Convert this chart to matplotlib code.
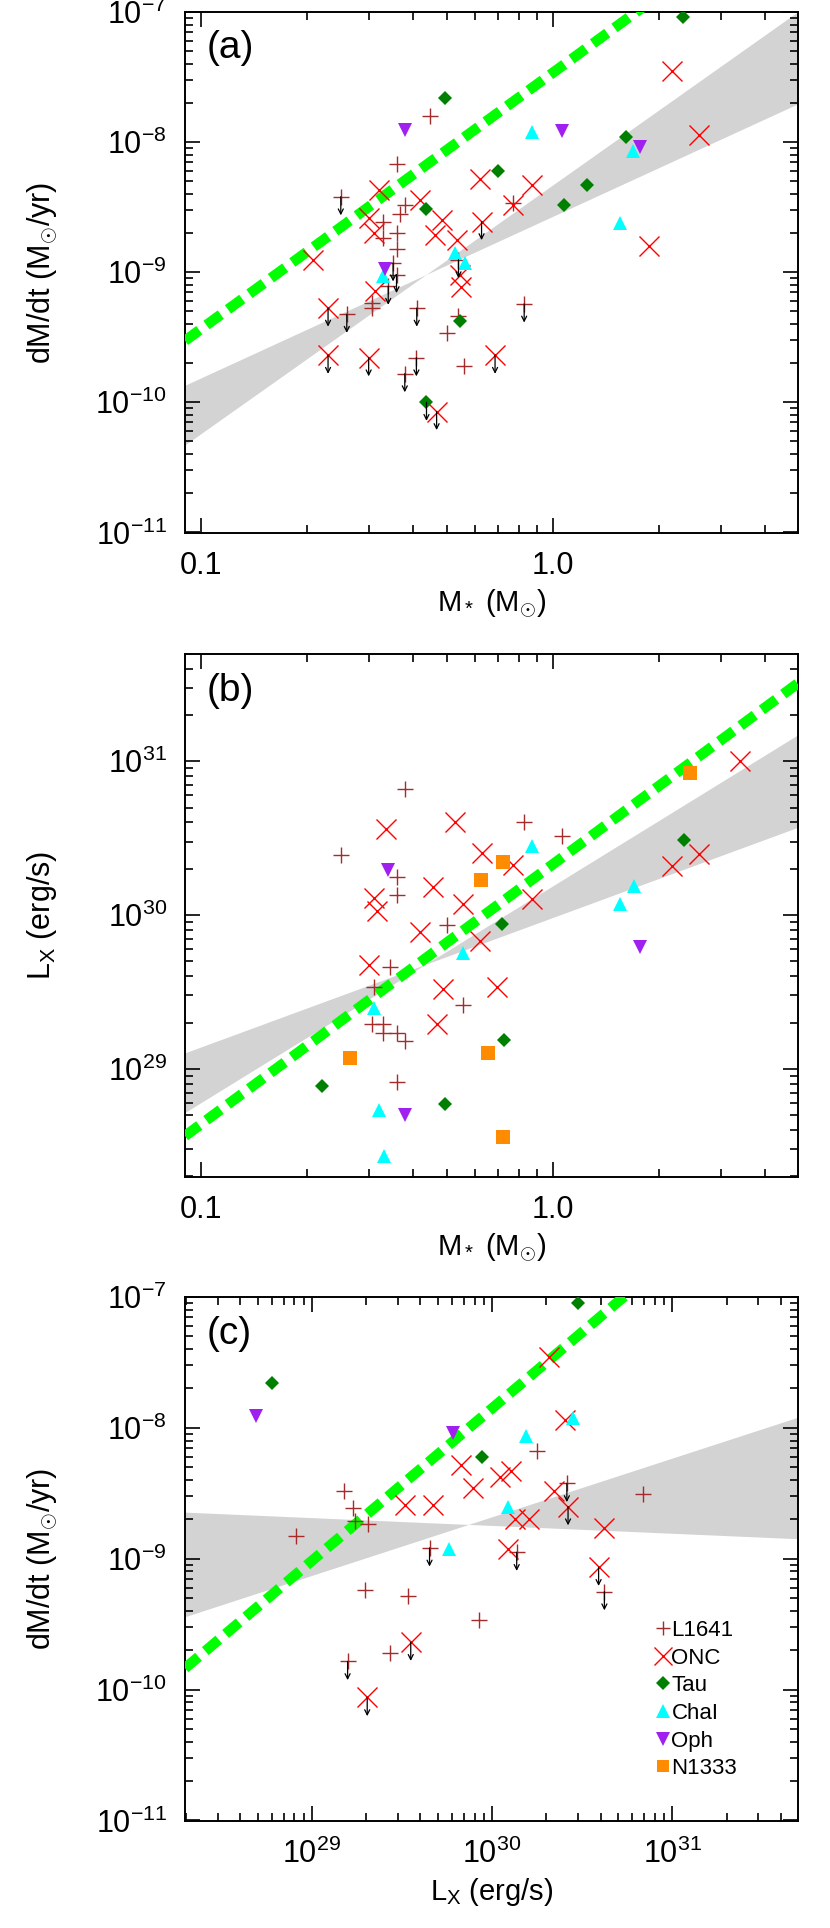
import numpy as np
import matplotlib
matplotlib.use('Agg')
import matplotlib.pyplot as plt
from matplotlib.ticker import (LogLocator, FixedLocator, FixedFormatter, NullFormatter,
                               LogFormatterSciNotation)

plt.rcParams['font.family'] = ['Liberation Sans', 'DejaVu Sans']
plt.rcParams['mathtext.fontset'] = 'custom'
plt.rcParams['mathtext.rm'] = 'Liberation Sans'
plt.rcParams['mathtext.it'] = 'Liberation Sans:italic'
plt.rcParams['mathtext.bf'] = 'Liberation Sans:bold'

# ---------------- panel (a): M* vs dM/dt ----------------
l1641_a_m = [0.448, 0.36, 0.25, 0.38, 0.368, 0.33, 0.33, 0.36, 0.36, 0.352, 0.36, 0.341, 0.306,
             0.306, 0.26, 0.411, 0.54, 0.54, 0.50, 0.41, 0.38, 0.56, 0.773, 0.83]
l1641_a_mdot = [1.6e-8, 6.8e-9, 3.8e-9, 3.3e-9, 2.8e-9, 2.45e-9, 1.83e-9, 2.0e-9, 1.5e-9, 1.18e-9,
                9.6e-10, 7.8e-10, 5.8e-10, 5.3e-10, 4.75e-10, 5.3e-10, 4.6e-10, 1.25e-9, 3.4e-10,
                2.2e-10, 1.66e-10, 1.9e-10, 3.4e-9, 5.7e-10]
l1641_a_ul = [0, 0, 1, 0, 0, 0, 0, 0, 0, 1, 1, 1, 0, 0, 1, 1, 0, 1, 0, 1, 1, 0, 0, 1]

onc_a_m = [0.209, 0.32, 0.30, 0.31, 0.42, 0.484, 0.463, 0.62, 0.534, 0.546, 0.55, 0.313, 0.23,
           0.628, 0.871, 0.773, 2.18, 2.6, 1.88, 0.23, 0.30, 0.468, 0.686]
onc_a_mdot = [1.25e-9, 4.3e-9, 2.6e-9, 2.0e-9, 3.6e-9, 2.5e-9, 1.94e-9, 5.2e-9, 1.78e-9, 9.5e-10,
              7.7e-10, 7.2e-10, 5.3e-10, 2.45e-9, 4.7e-9, 3.3e-9, 3.5e-8, 1.14e-8, 1.6e-9,
              2.3e-10, 2.2e-10, 8.5e-11, 2.3e-10]
onc_a_ul = [0, 0, 0, 0, 0, 0, 0, 0, 0, 0, 0, 0, 1, 1, 0, 0, 0, 0, 0, 1, 1, 1, 1]

tau_a_m = [0.494, 0.438, 0.70, 0.546, 2.35, 1.62, 1.25, 1.08, 0.438]
tau_a_mdot = [2.2e-8, 3.05e-9, 6.0e-9, 4.2e-10, 9.1e-8, 1.1e-8, 4.7e-9, 3.3e-9, 1.0e-10]
tau_a_ul = [0, 0, 0, 0, 0, 0, 0, 0, 1]

cha_a_m = [0.33, 0.527, 0.563, 0.871, 1.69, 1.55]
cha_a_mdot = [9.3e-10, 1.4e-9, 1.18e-9, 1.19e-8, 8.6e-9, 2.4e-9]

oph_a_m = [0.38, 0.334, 1.06, 1.77]
oph_a_mdot = [1.23e-8, 1.05e-9, 1.21e-8, 9.2e-9]

# fit (dashed) and confidence band (log-space pivot + two slopes)
fit_a = (-7.468, 1.97)            # log intercept at M=1, slope
band_a = (-0.360, -9.018, 1.242, 1.912)  # pivot logx, pivot logy, slope1, slope2

# ---------------- panel (b): M* vs Lx ----------------
l1641_b_m = [0.38, 0.25, 0.36, 0.36, 0.50, 0.345, 0.83, 1.06, 0.31, 0.306, 0.33, 0.33, 0.36, 0.38,
             0.557, 0.36]
l1641_b_lx = [6.6e30, 2.46e30, 1.78e30, 1.34e30, 8.6e29, 4.6e29, 4.0e30, 3.26e30, 3.43e29, 1.97e29,
              1.95e29, 1.72e29, 1.72e29, 1.51e29, 2.6e29, 8.2e28]

onc_b_m = [0.337, 0.527, 0.628, 0.31, 0.316, 0.458, 0.557, 0.42, 0.62, 0.30, 3.4, 0.773, 0.871,
           2.61, 2.19, 0.489, 0.468, 0.693]
onc_b_lx = [3.64e30, 4.0e30, 2.53e30, 1.3e30, 1.07e30, 1.53e30, 1.18e30, 7.8e29, 6.8e29, 4.7e29,
            1.0e31, 2.1e30, 1.27e30, 2.5e30, 2.08e30, 3.3e29, 1.97e29, 3.4e29]

tau_b_m = [0.716, 2.36, 0.221, 0.494, 0.727]
tau_b_lx = [8.7e29, 3.06e30, 7.7e28, 5.9e28, 1.54e29]

cha_b_m = [0.557, 0.871, 1.70, 1.55, 0.31, 0.321, 0.332]
cha_b_lx = [5.7e29, 2.8e30, 1.54e30, 1.18e30, 2.5e29, 5.4e28, 2.7e28]

oph_b_m = [0.341, 1.77, 0.38]
oph_b_lx = [1.97e30, 6.2e29, 5.0e28]

n1333_b_m = [0.624, 0.724, 2.45, 0.266, 0.656, 0.724]
n1333_b_lx = [1.7e30, 2.2e30, 8.4e30, 1.18e29, 1.27e29, 3.6e28]

fit_b = (30.329, 1.69)
band_b = (-0.362, 29.679, 0.842, 1.410)

# ---------------- panel (c): Lx vs dM/dt ----------------
l1641_c_lx = [1.5e29, 1.69e29, 1.74e29, 2.04e29, 8.2e28, 4.5e29, 1.98e29, 3.4e29, 8.5e29, 1.77e30,
              1.37e30, 2.6e30, 4.2e30, 6.9e30, 2.7e29, 1.58e29]
l1641_c_mdot = [3.3e-9, 2.45e-9, 1.94e-9, 1.83e-9, 1.49e-9, 1.21e-9, 5.8e-10, 5.2e-10, 3.4e-10,
                6.6e-9, 1.12e-9, 3.76e-9, 5.6e-10, 3.1e-9, 1.9e-10, 1.64e-10]
l1641_c_ul = [0, 0, 0, 0, 0, 1, 0, 0, 0, 0, 1, 1, 1, 0, 0, 1]

onc_c_lx = [6.7e29, 7.8e29, 3.27e29, 4.7e29, 1.1e30, 1.28e30, 2.08e30, 2.54e30, 1.34e30, 1.6e30,
            1.23e30, 2.2e30, 2.64e30, 4.2e30, 3.9e30, 3.54e29, 2.03e29]
onc_c_mdot = [5.2e-9, 3.5e-9, 2.57e-9, 2.57e-9, 4.2e-9, 4.7e-9, 3.5e-8, 1.14e-8, 2.0e-9, 2.0e-9,
              1.18e-9, 3.3e-9, 2.5e-9, 1.73e-9, 8.6e-10, 2.3e-10, 8.7e-11]
onc_c_ul = [0, 0, 0, 0, 0, 0, 0, 0, 0, 0, 0, 0, 1, 0, 1, 1, 1]

tau_c_lx = [6.0e28, 8.8e29, 3.0e30]
tau_c_mdot = [2.2e-8, 6.0e-9, 9.0e-8]

cha_c_lx = [5.8e29, 1.23e30, 1.55e30, 2.8e30]
cha_c_mdot = [1.18e-9, 2.5e-9, 8.7e-9, 1.19e-8]

oph_c_lx = [4.9e28, 6.1e29]
oph_c_mdot = [1.23e-8, 9.2e-9]

fit_c = (-9.502, 1.166, 28.584)   # log y at log x0, slope, log x0
band_c = (29.869, -8.738, -0.0598, 0.4484)

# major tick positions
mdot_ticks = [1e-11, 1e-10, 1e-9, 1e-8, 1e-7]
lx_ticks = [1e29, 1e30, 1e31]

# marker styles
st_l1641 = dict(marker='+', color='#a52a2a', ms=11, mew=1.0, ls='none', label='L1641')
st_onc = dict(marker='x', color='red', ms=14, mew=1.0, ls='none', label='ONC')
st_tau = dict(marker='D', color='#008000', ms=7.5, mew=0, ls='none', label='Tau')
st_cha = dict(marker='^', color='#00ffff', ms=10.5, mew=0, ls='none', label='ChaI')
st_oph = dict(marker='v', color='#a020f0', ms=10.5, mew=0, ls='none', label='Oph')
st_n1333 = dict(marker='s', color='#ff8c00', ms=10, mew=0, ls='none', label='N1333')


def plot_group(ax, x, y, style, ul=None):
    ax.plot(x, y, zorder=4, **style)
    if ul is None:
        return
    for xi, yi, u in zip(x, y, ul):
        if u:
            ax.annotate('', xy=(xi, yi * 0.72), xytext=(xi, yi),
                        arrowprops=dict(arrowstyle='->', color='k', lw=0.9,
                                        shrinkA=0, shrinkB=0, mutation_scale=9),
                        zorder=5)


def draw_band(ax, xlim, band):
    lx = np.linspace(np.log10(xlim[0]), np.log10(xlim[1]), 400)
    px, py, s1, s2 = band
    y1 = py + s1 * (lx - px)
    y2 = py + s2 * (lx - px)
    ax.fill_between(10**lx, 10**np.minimum(y1, y2), 10**np.maximum(y1, y2),
                    color='#d3d3d3', lw=0, zorder=1)


def draw_fit(ax, xlim, a, b, x0=0.0):
    lx = np.linspace(np.log10(xlim[0]), np.log10(xlim[1]), 200)
    ax.plot(10**lx, 10**(a + b * (lx - x0)), color='#00ff00', lw=7.5,
            ls=(0, (1.7, 0.85)), dash_capstyle='butt', zorder=3)


def style_axes(ax, yticks, xticks=None):
    ax.set_xscale('log')
    ax.set_yscale('log')
    if xticks is None:
        ax.xaxis.set_major_locator(FixedLocator([0.1, 1.0]))
        ax.xaxis.set_major_formatter(FixedFormatter(['0.1', '1.0']))
    else:
        ax.xaxis.set_major_locator(FixedLocator(xticks))
        ax.xaxis.set_major_formatter(LogFormatterSciNotation())
    ax.xaxis.set_minor_locator(LogLocator(base=10, subs=np.arange(2, 10), numticks=100))
    ax.xaxis.set_minor_formatter(NullFormatter())
    ax.yaxis.set_major_locator(FixedLocator(yticks))
    ax.yaxis.set_major_formatter(LogFormatterSciNotation())
    ax.yaxis.set_minor_locator(LogLocator(base=10, subs=np.arange(2, 10), numticks=100))
    ax.yaxis.set_minor_formatter(NullFormatter())
    ax.tick_params(which='both', direction='in', top=True, right=True, labelsize=22, width=1.2)
    ax.tick_params(which='major', length=11, pad=13)
    ax.tick_params(which='minor', length=6)
    for s in ax.spines.values():
        s.set_linewidth(1.4)


fig = plt.figure(figsize=(8.3, 19.28), dpi=100)
L, W = 185 / 830, 613 / 830
ax_a = fig.add_axes([L, 1 - 533 / 1928, W, 521 / 1928])
ax_b = fig.add_axes([L, 1 - 1177 / 1928, W, 523 / 1928])
ax_c = fig.add_axes([L, 1 - 1821 / 1928, W, 524 / 1928])

mlim = (0.0902, 4.98)
mdlim = (0.99e-11, 1.0e-7)
lxlim = (1.98e28, 4.98e31)

# (a)
draw_band(ax_a, mlim, band_a)
draw_fit(ax_a, mlim, *fit_a)
plot_group(ax_a, l1641_a_m, l1641_a_mdot, st_l1641, l1641_a_ul)
plot_group(ax_a, onc_a_m, onc_a_mdot, st_onc, onc_a_ul)
plot_group(ax_a, tau_a_m, tau_a_mdot, st_tau, tau_a_ul)
plot_group(ax_a, cha_a_m, cha_a_mdot, st_cha)
plot_group(ax_a, oph_a_m, oph_a_mdot, st_oph)
style_axes(ax_a, mdot_ticks)
ax_a.set_xlim(mlim)
ax_a.set_ylim(mdlim)
ax_a.set_xlabel(r'M$_*$ (M$_{\odot}$)', fontsize=21)
ax_a.set_ylabel(r'dM/dt (M$_{\odot}$/yr)', fontsize=22)
ax_a.yaxis.set_label_coords(-0.205, 0.5)
ax_a.text(0.035, 0.93, '(a)', transform=ax_a.transAxes, fontsize=28, va='center')

# (b)
draw_band(ax_b, mlim, band_b)
draw_fit(ax_b, mlim, *fit_b)
plot_group(ax_b, l1641_b_m, l1641_b_lx, st_l1641)
plot_group(ax_b, onc_b_m, onc_b_lx, st_onc)
plot_group(ax_b, tau_b_m, tau_b_lx, st_tau)
plot_group(ax_b, cha_b_m, cha_b_lx, st_cha)
plot_group(ax_b, oph_b_m, oph_b_lx, st_oph)
plot_group(ax_b, n1333_b_m, n1333_b_lx, st_n1333)
style_axes(ax_b, lx_ticks)
ax_b.set_xlim(mlim)
ax_b.set_ylim(lxlim)
ax_b.set_xlabel(r'M$_*$ (M$_{\odot}$)', fontsize=21)
ax_b.set_ylabel(r'L$_{\rm X}$ (erg/s)', fontsize=22)
ax_b.yaxis.set_label_coords(-0.205, 0.5)
ax_b.text(0.035, 0.93, '(b)', transform=ax_b.transAxes, fontsize=28, va='center')

# (c)
draw_band(ax_c, lxlim, band_c)
draw_fit(ax_c, lxlim, fit_c[0], fit_c[1], fit_c[2])
plot_group(ax_c, l1641_c_lx, l1641_c_mdot, st_l1641, l1641_c_ul)
plot_group(ax_c, onc_c_lx, onc_c_mdot, st_onc, onc_c_ul)
plot_group(ax_c, tau_c_lx, tau_c_mdot, st_tau)
plot_group(ax_c, cha_c_lx, cha_c_mdot, st_cha)
plot_group(ax_c, oph_c_lx, oph_c_mdot, st_oph)
ax_c.plot([], [], **st_n1333)
style_axes(ax_c, mdot_ticks, lx_ticks)
ax_c.set_xlim(lxlim)
ax_c.set_ylim(mdlim)
ax_c.set_xlabel(r'L$_{\rm X}$ (erg/s)', fontsize=21)
ax_c.set_ylabel(r'dM/dt (M$_{\odot}$/yr)', fontsize=22)
ax_c.yaxis.set_label_coords(-0.205, 0.5)
ax_c.text(0.035, 0.93, '(c)', transform=ax_c.transAxes, fontsize=28, va='center')

handles, labels = ax_c.get_legend_handles_labels()
seen = {}
for h, l in zip(handles, labels):
    if l not in seen:
        seen[l] = h
order = ['L1641', 'ONC', 'Tau', 'ChaI', 'Oph', 'N1333']
ax_c.legend([seen[k] for k in order], order, loc='upper left', bbox_to_anchor=(0.75, 0.405),
            frameon=False, fontsize=16, numpoints=1, handlelength=0.6, handletextpad=0.1,
            labelspacing=0.3, borderpad=0, markerscale=0.9)

fig.savefig('out.png', dpi=100)
